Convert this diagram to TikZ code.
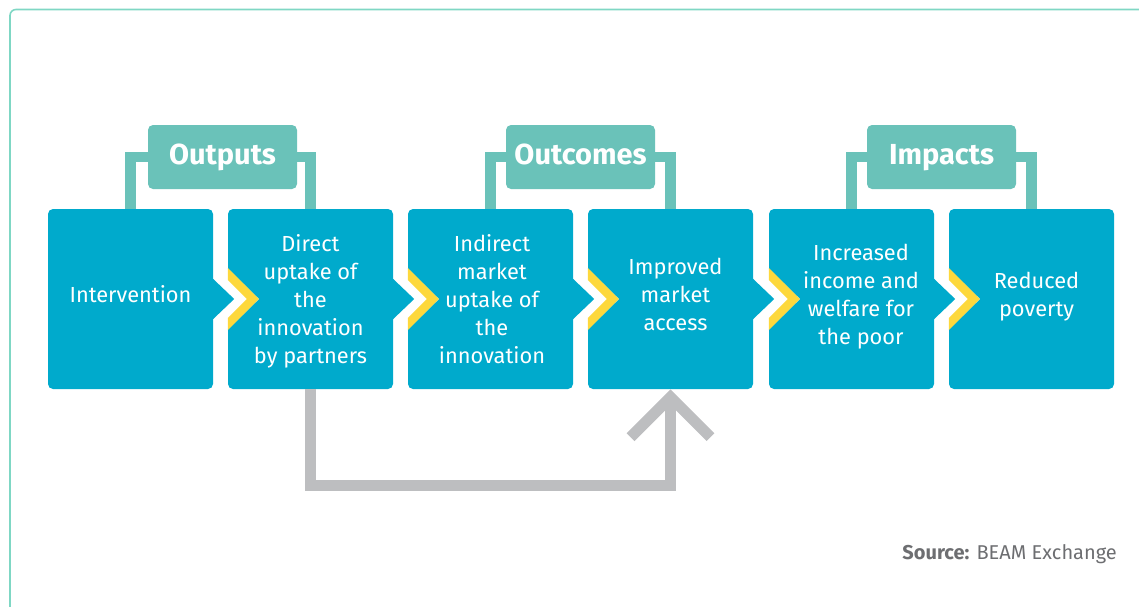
\documentclass[tikz,border=0pt]{standalone}
\usepackage{fontspec}
\setmainfont{Fira Sans}
\usetikzlibrary{calc,backgrounds}
\definecolor{boxblue}{HTML}{00AACC}
\definecolor{headteal}{HTML}{6AC2B9}
\definecolor{chevyellow}{HTML}{FDD83C}
\definecolor{arrowgray}{HTML}{BDBEC0}
\definecolor{framegreen}{HTML}{7FD7C4}
\definecolor{sourcegray}{HTML}{6D6E71}
\tikzset{
  stagebox/.style={rectangle, fill=boxblue, rounded corners=5pt, minimum width=165pt, minimum height=180pt, inner sep=0pt},
  stagetext/.style={text=white, align=center, font=\fontsize{21.8}{28}\selectfont},
  headbox/.style={rectangle, fill=headteal, rounded corners=5pt, minimum width=149pt, minimum height=64pt, text=white, text height=21pt, text depth=6pt, font=\fontsize{29}{30}\selectfont\bfseries},
  bracket/.style={draw=headteal, line width=10.5pt},
  feedback/.style={draw=arrowgray, line width=11pt},
}
\begin{document}
\begin{tikzpicture}[x=1pt,y=-1pt]
\useasboundingbox (0,0) rectangle (1139,606);
\begin{scope}
\clip (0,0) rectangle (1139,606);
\draw[framegreen, line width=1.6pt, rounded corners=6pt] (1145,9.5) -- (10,9.5) -- (10,615);
\end{scope}
% stage boxes
\foreach \i/\x in {1/130.5,2/310.5,3/490.5,4/670.5,5/851.5,6/1031.5}{
  \node[stagebox] (b\i) at (\x,299) {};
}
% notches and chevrons
\foreach \i in {2,...,6}{
  \fill[white] ($(b\i.west)+(-0.6,-31)$) -- ($(b\i.west)+(31,0)$) -- ($(b\i.west)+(-0.6,31)$) -- cycle;
  \fill[chevyellow] ($(b\i.west)+(0,-31)$) -- ($(b\i.west)+(31,0)$) -- ($(b\i.west)+(0,31)$) -- ($(b\i.west)+(0,19)$) -- ($(b\i.west)+(19,0)$) -- ($(b\i.west)+(0,-19)$) -- cycle;
}
\foreach \i in {1,...,5}{
  \fill[boxblue] ($(b\i.east)+(-1,-21)$) -- ($(b\i.east)+(21,0)$) -- ($(b\i.east)+(-1,21)$) -- cycle;
}
% texts
\node[stagetext] (t1) at ($(b1.center)+(0,-5)$) {Intervention};
\node[stagetext] (t2) at ($(b2.center)+(0,2)$) {Direct\\uptake of\\the\\innovation\\by partners};
\node[stagetext] (t3) at ($(b3.center)+(1.5,0)$) {Indirect\\market\\uptake of\\the\\innovation};
\node[stagetext] (t4) at ($(b4.center)+(5,-5)$) {Improved\\market\\access};
\node[stagetext] (t5) at ($(b5.center)+(9.5,-2)$) {Increased\\income and\\welfare for\\the poor};
\node[stagetext] (t6) at ($(b6.center)+(5,-2)$) {Reduced\\poverty};
% headers
\node[headbox] (h1) at (222.5,157) {Outputs};
\node[headbox] (h2) at (580.5,157) {Outcomes};
\node[headbox] (h3) at (941.5,157) {Impacts};
\begin{scope}[on background layer]
  \draw[bracket] (b1.north) |- (h1.center) -| (b2.north);
  \draw[bracket] (b3.north) |- (h2.center) -| (b4.north);
  \draw[bracket] (b5.north) |- (h3.center) -| (b6.north);
\end{scope}
% feedback arrow
\coordinate (turn) at ($(b4.south)+(0,96.5)$);
\coordinate (tip) at ($(b4.south)+(0,8)$);
\draw[feedback] (b2.south) |- (turn) -- (tip);
\draw[feedback, line join=miter] ($(tip)+(-40,40)$) -- (tip) -- ($(tip)+(40,40)$);
% source
\node[anchor=east, text=sourcegray, font=\fontsize{20}{22}\selectfont, inner sep=0pt] (src) at (1117,554) {\textbf{Source:} BEAM Exchange};
\end{tikzpicture}
\end{document}
